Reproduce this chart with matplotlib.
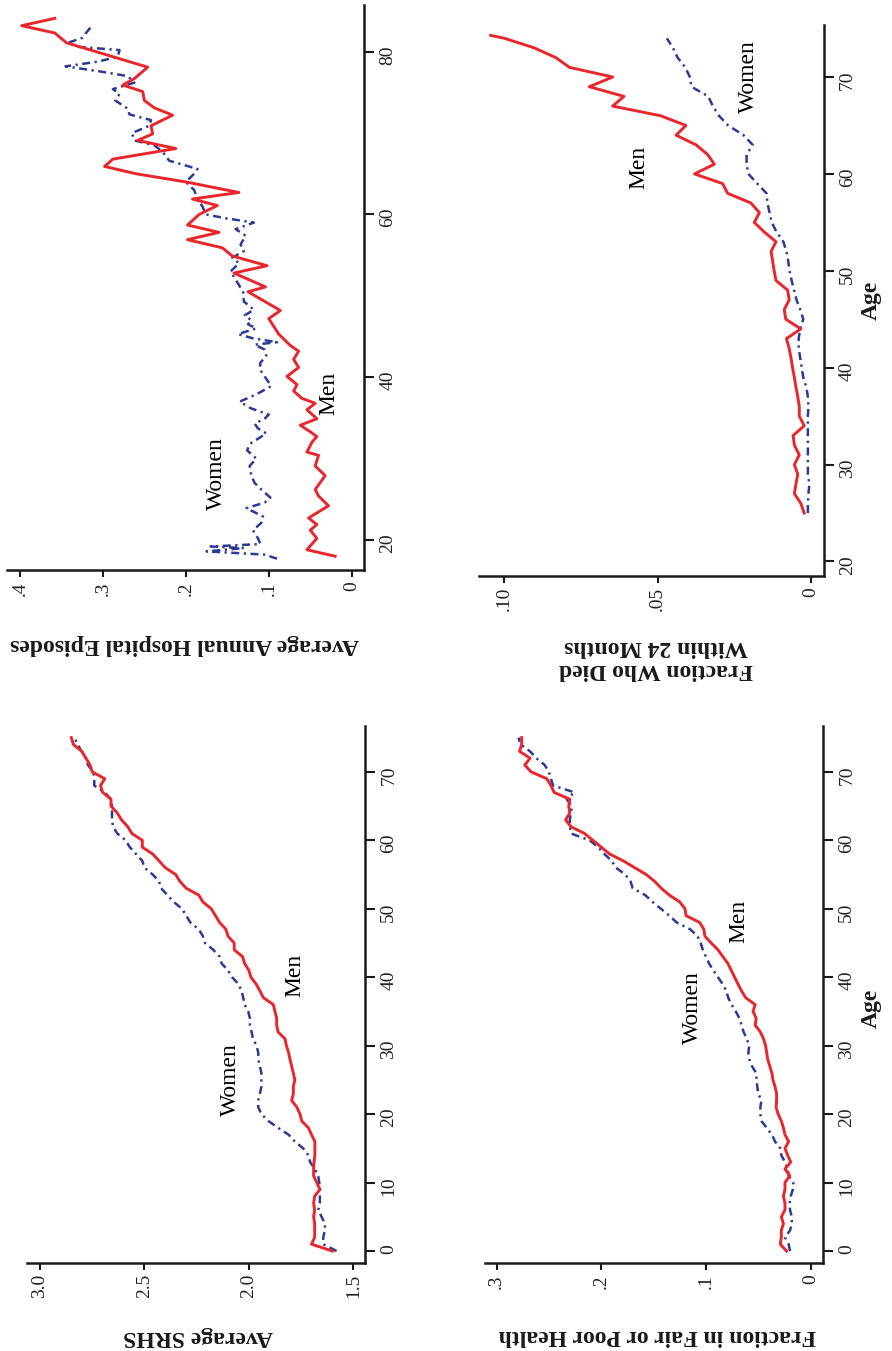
import matplotlib
matplotlib.use("Agg")
import matplotlib.pyplot as plt

plt.rcParams['font.family'] = ['Liberation Serif', 'DejaVu Serif']

RED = '#E8262B'
BLUE = '#2B3A97'
SPINE = '#1a1a1a'

# ---------------- data ----------------
# Average SRHS by age
srhs_age = list(range(0, 76))
srhs_men = [1.60, 1.70, 1.685, 1.685, 1.685, 1.69, 1.685, 1.69, 1.685, 1.66,
            1.675, 1.69, 1.69, 1.688, 1.684, 1.684, 1.684, 1.70, 1.715, 1.747,
            1.755, 1.77, 1.795, 1.787, 1.787, 1.78, 1.787, 1.795, 1.803, 1.81,
            1.82, 1.827, 1.86, 1.867, 1.867, 1.875, 1.883, 1.93, 1.947, 1.965,
            1.99, 2.0, 2.02, 2.03, 2.07, 2.07, 2.10, 2.11, 2.14, 2.16,
            2.18, 2.22, 2.24, 2.30, 2.33, 2.35, 2.40, 2.43, 2.46, 2.51,
            2.51, 2.56, 2.58, 2.61, 2.63, 2.66, 2.66, 2.70, 2.71, 2.69,
            2.75, 2.76, 2.78, 2.80, 2.84, 2.85]
srhs_women = [1.58, 1.644, 1.644, 1.636, 1.636, 1.652, 1.668, 1.66, 1.66, 1.66,
              1.663, 1.668, 1.684, 1.707, 1.715, 1.74, 1.78, 1.81, 1.86, 1.907,
              1.94, 1.955, 1.955, 1.947, 1.94, 1.94, 1.94, 1.947, 1.955, 1.955,
              1.963, 1.98, 1.987, 1.995, 1.995, 2.003, 2.02, 2.027, 2.035, 2.05,
              2.08, 2.10, 2.13, 2.14, 2.17, 2.21, 2.22, 2.24, 2.28, 2.30,
              2.32, 2.36, 2.39, 2.42, 2.43, 2.46, 2.50, 2.51, 2.54, 2.57,
              2.59, 2.63, 2.65, 2.655, 2.655, 2.655, 2.66, 2.69, 2.74, 2.74,
              2.745, 2.77, 2.78, 2.80, 2.82, 2.835]

# Fraction in fair or poor health by age
fair_age = list(range(0, 76))
fair_men = [.023, .029, .028, .028, .026, .028, .0245, .0245, .026, .0245,
            .0245, .020, .0245, .019, .022, .0245, .021, .0245, .026, .028,
            .031, .033, .0325, .0325, .034, .036, .037, .039, .041, .042,
            .043, .045, .048, .053, .052, .055, .053, .062, .066, .0694,
            .0726, .0758, .079, .0838, .0885, .095, .101, .102, .106, .119,
            .120, .125, .135, .1427, .149, .157, .168, .179, .192, .200,
            .208, .216, .229, .234, .230, .231, .230, .245, .248, .252,
            .267, .273, .268, .278, .276, .276]
fair_women = [.0197, .021, .0245, .0197, .018, .018, .0197, .020, .019, .017,
              .0166, .021, .022, .0245, .028, .029, .034, .037, .042, .047,
              .048, .048, .047, .050, .051, .0516, .052, .056, .0586, .0595,
              .0586, .061, .064, .066, .068, .0715, .0755, .0787, .0806, .084,
              .0885, .093, .097, .100, .103, .105, .108, .115, .128, .135,
              .143, .151, .158, .170, .172, .177, .186, .190, .197, .203,
              .211, .229, .230, .230, .229, .228, .233, .2255, .246, .248,
              .250, .254, .262, .268, .277, .279]

# Average annual hospital episodes by age
hosp_men_age = [18.0, 18.8, 20.2, 21.2, 21.9, 22.7, 24.2, 25.4, 26.2, 27.9,
                29.1, 30.4, 30.8, 32.0, 32.7, 33.3, 34.1, 34.9, 36.0, 36.8,
                37.4, 38.3, 39.1, 40.1, 41.2, 42.2, 43.2, 43.9, 45.3, 47.2,
                48.2, 50.5, 51.1, 52.8, 53.7, 54.9, 55.9, 56.9, 57.8, 58.7,
                60.0, 61.1, 61.9, 62.7, 64.0, 65.0, 65.9, 66.8, 68.1, 69.1,
                69.9, 70.9, 72.2, 73.1, 74.0, 75.1, 75.9, 76.7, 78.1, 81.1,
                82.3, 83.2, 84.1]
hosp_men = [.020, .054, .042, .050, .042, .052, .028, .040, .044, .032,
            .044, .040, .054, .048, .042, .050, .062, .042, .054, .044,
            .060, .070, .066, .078, .064, .070, .064, .074, .088, .100,
            .086, .125, .104, .142, .102, .144, .156, .198, .160, .198,
            .184, .162, .192, .136, .200, .260, .298, .288, .212, .258,
            .240, .242, .216, .238, .250, .252, .276, .262, .246, .344,
            .358, .398, .358]
hosp_women_age = [17.7, 18.2, 18.6, 19.0, 19.2, 19.5, 20.2, 21.2, 22.1, 22.9,
                  23.9, 24.6, 25.2, 26.2, 27.0, 27.9, 29.1, 30.0, 31.0, 31.8,
                  32.5, 33.1, 33.7, 34.3, 34.9, 35.4, 36.2, 37.0, 37.9, 38.9,
                  39.8, 41.0, 41.8, 42.6, 43.4, 44.0, 44.3, 44.8, 45.3, 46.0,
                  46.5, 47.0, 47.6, 48.3, 49.3, 50.5, 51.0, 52.0, 53.0, 54.0,
                  54.7, 55.5, 56.3, 57.4, 58.2, 59.0, 59.5, 60.0, 61.0, 61.9,
                  63.0, 64.0, 65.0, 65.6, 66.6, 67.7, 68.5, 69.1, 70.0, 70.9,
                  71.6, 72.3, 73.0, 74.0, 74.8, 75.4, 76.2, 77.0, 77.6, 78.2,
                  78.8, 79.4, 80.2, 80.6, 81.1, 81.7, 82.6, 83.3]
hosp_women = [.090, .105, .175, .130, .170, .110, .113, .119, .109, .107,
              .127, .105, .098, .109, .117, .121, .123, .115, .126, .123,
              .112, .103, .113, .117, .105, .100, .122, .135, .115, .097,
              .103, .111, .110, .103, .105, .117, .090, .120, .137, .115,
              .125, .121, .129, .118, .130, .131, .134, .140, .146, .136,
              .144, .130, .134, .128, .140, .118, .150, .176, .180, .186,
              .190, .200, .190, .186, .220, .228, .238, .262, .265, .244,
              .242, .268, .270, .285, .280, .288, .262, .270, .305, .345,
              .305, .282, .280, .330, .342, .325, .318, .312]

# Fraction who died within 24 months by age
died_age = list(range(25, 75)) + [74.3]
died_men = [.0022, .0033, .0054, .0049, .0043, .0054, .0038, .0054, .0058, .0022,
            .0038, .0038, .0043, .0049, .0054, .0060, .0065, .0071, .0080, .0033,
            .0082, .0087, .0071, .0076, .0114, .0120, .0125, .0130, .0114, .0152,
            .0185, .0168, .0196, .0272, .0288, .0380, .0315, .0337, .0375, .0440,
            .0408, .0490, .0647, .0610, .0723, .0647, .0788, .0832, .0902, .1000,
            .1045]
died_women_age = list(range(25, 75))
died_women = [.0010, .0010, .0008, .0005, .0010, .0010, .0010, .0010, .0010, .0010,
              .0010, .0008, .0010, .0015, .0025, .0030, .0035, .0040, .0040, .0035,
              .0025, .0035, .0047, .0055, .0063, .0070, .0074, .0080, .0090, .0112,
              .0128, .0135, .0142, .0145, .0175, .0204, .0210, .0210, .0190, .0220,
              .0270, .0300, .0320, .0335, .0390, .0395, .0410, .0435, .0450, .0470]

# tick labels
srhs_ticks = [3.0, 2.5, 2.0, 1.5]
srhs_labels = ['3.0', '2.5', '2.0', '1.5']
fair_ticks = [.3, .2, .1, 0]
fair_labels = ['.3', '.2', '.1', '0']
hosp_ticks = [.4, .3, .2, .1, 0]
hosp_labels = ['.4', '.3', '.2', '.1', '0']
died_ticks = [.10, .05, 0]
died_labels = ['.10', '.05', '0']
age_ticks_full = [0, 10, 20, 30, 40, 50, 60, 70]
age_ticks_hosp = [20, 40, 60, 80]
age_ticks_died = [20, 30, 40, 50, 60, 70]

# ---------------- figure ----------------
W, H = 892, 1351
fig = plt.figure(figsize=(W / 100, H / 100), dpi=100)
fig.patch.set_facecolor('white')


def box(x0, x1, ytop, ybot):
    return [x0 / W, 1 - ybot / H, (x1 - x0) / W, (ybot - ytop) / H]


WOMEN_STYLE = dict(color=BLUE, lw=1.8, linestyle=(0, (3.2, 1.8, 0.9, 1.8)))
MEN_STYLE = dict(color=RED, lw=2.1, linestyle='-')


def make_axis(rect, xlim, ylim, xticks, xlabels, yticks):
    ax = fig.add_axes(rect)
    ax.set_xlim(*xlim)
    ax.set_ylim(*ylim)
    for s in ('top', 'left'):
        ax.spines[s].set_visible(False)
    for s in ('bottom', 'right'):
        ax.spines[s].set_linewidth(1.8)
        ax.spines[s].set_color(SPINE)
    ax.yaxis.tick_right()
    ax.set_xticks(xticks, xlabels)
    ax.set_yticks(yticks, [str(t) for t in yticks])
    ax.tick_params(axis='x', direction='out', length=5, width=1.5, pad=3,
                   labelsize=14, labelrotation=90, colors=SPINE, labelcolor='#222222')
    ax.tick_params(axis='y', direction='out', length=7, width=1.5, pad=4,
                   labelsize=14, labelrotation=90, colors=SPINE, labelcolor='#222222')
    ax.patch.set_alpha(0)
    return ax


# SRHS (lower left)
axA = make_axis(box(27, 365, 726, 1263), (3.062, 1.444), (-1.75, 76.7),
                srhs_ticks, srhs_labels, age_ticks_full)
axA.plot(srhs_women, srhs_age, **WOMEN_STYLE)
axA.plot(srhs_men, srhs_age, **MEN_STYLE)
axA.text(2.09, 25, 'Women', rotation=90, fontsize=17, ha='center', va='center')
axA.text(1.78, 40.2, 'Men', rotation=90, fontsize=17, ha='center', va='center')

# Fair / poor health (lower right)
axC = make_axis(box(485, 823, 726, 1263), (0.311, -0.0118), (-1.75, 76.7),
                fair_ticks, fair_labels, age_ticks_full)
axC.plot(fair_women, fair_age, **WOMEN_STYLE)
axC.plot(fair_men, fair_age, **MEN_STYLE)
axC.text(0.113, 35.5, 'Women', rotation=90, fontsize=17, ha='center', va='center')
axC.text(0.0685, 48.2, 'Men', rotation=90, fontsize=17, ha='center', va='center')

# Hospital episodes (upper left)
axB = make_axis(box(6.7, 364.3, 5, 570), (0.416, -0.0152), (16.31, 85.74),
                hosp_ticks, hosp_labels, age_ticks_hosp)
axB.plot(hosp_women, hosp_women_age, **WOMEN_STYLE)
axB.plot(hosp_men, hosp_men_age, **MEN_STYLE)
axB.text(0.163, 28.1, 'Women', rotation=90, fontsize=17, ha='center', va='center')
axB.text(0.028, 38.0, 'Men', rotation=90, fontsize=17, ha='center', va='center')

# Died within 24 months (upper right)
axD = make_axis(box(479.3, 823.5, 25, 576), (0.1082, -0.0041), (18.5, 75.37),
                died_ticks, died_labels, age_ticks_died)
axD.plot(died_women, died_women_age, **WOMEN_STYLE)
axD.plot(died_men, died_age, **MEN_STYLE)
axD.text(0.0563, 60.7, 'Men', rotation=90, fontsize=17, ha='center', va='center')
axD.text(0.0204, 70.0, 'Women', rotation=90, fontsize=17, ha='center', va='center')

# axis titles (rotated like the reference page)
lab = dict(fontsize=17, fontweight='bold', ha='center', va='center', color='#1a1a1a')
fig.text(185 / W, 1 - 645 / H, 'Average Annual Hospital Episodes', rotation=180, **lab)
fig.text(198 / W, 1 - 1337 / H, 'Average SRHS', rotation=180, **lab)
fig.text(657 / W, 1 - 1335 / H, 'Fraction in Fair or Poor Health', rotation=180, **lab)
fig.text(656 / W, 1 - 658 / H, 'Fraction Who Died\nWithin 24 Months', rotation=180,
         multialignment='center', linespacing=1.15, **lab)
fig.text(871 / W, 1 - 300 / H, 'Age', rotation=90, **lab)
fig.text(871 / W, 1 - 1008 / H, 'Age', rotation=90, **lab)

fig.savefig('out.png', dpi=100, facecolor='white')
